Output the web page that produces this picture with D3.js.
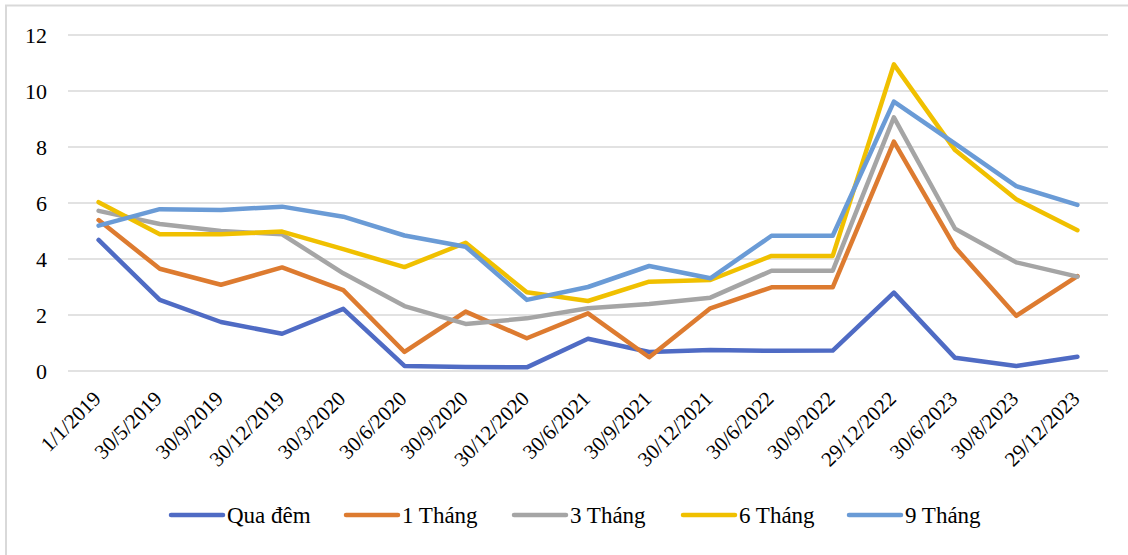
<!DOCTYPE html>
<html>
<head>
<meta charset="utf-8">
<script src="https://cdn.jsdelivr.net/npm/d3@7"></script>
<style>
  body { margin: 0; background: #fff; }
  svg { display: block; }
  svg text { font-family: "Liberation Serif", "Tinos", "Times New Roman", "Nimbus Roman", "Noto Serif", "DejaVu Serif", "FreeSerif", serif; }
</style>
</head>
<body>
<div id="chart"></div>
<script>
// categories (dates)
const dates = ["1/1/2019", "30/5/2019", "30/9/2019", "30/12/2019", "30/3/2020", "30/6/2020",
  "30/9/2020", "30/12/2020", "30/6/2021", "30/9/2021", "30/12/2021", "30/6/2022",
  "30/9/2022", "29/12/2022", "30/6/2023", "30/8/2023", "29/12/2023"];

// series values
const quaDem  = [4.68, 2.54, 1.75, 1.33, 2.22, 0.18, 0.14, 0.13, 1.15, 0.68, 0.75, 0.72, 0.73, 2.8, 0.47, 0.18, 0.51];
const thang1  = [5.39, 3.65, 3.08, 3.7, 2.89, 0.68, 2.12, 1.17, 2.06, 0.49, 2.24, 2.99, 2.99, 8.19, 4.42, 1.97, 3.39];
const thang3  = [5.72, 5.25, 5.0, 4.88, 3.49, 2.32, 1.68, 1.88, 2.24, 2.39, 2.62, 3.58, 3.58, 9.06, 5.08, 3.88, 3.37];
const thang6  = [6.03, 4.88, 4.88, 4.98, 4.35, 3.71, 4.58, 2.81, 2.5, 3.19, 3.25, 4.11, 4.11, 10.95, 7.89, 6.13, 5.03];
const thang9  = [5.19, 5.78, 5.75, 5.87, 5.51, 4.84, 4.44, 2.54, 3.0, 3.75, 3.31, 4.83, 4.83, 9.62, 8.12, 6.6, 5.93];

const seriesNames = ["Qua đêm", "1 Tháng", "3 Tháng", "6 Tháng", "9 Tháng"];
const seriesColors = ["#4f6bc4", "#dd7b30", "#a5a5a5", "#f0c000", "#6a9bd6"];
const yTicks = [0, 2, 4, 6, 8, 10, 12];

const allSeries = [quaDem, thang1, thang3, thang6, thang9];

const width = 1128, height = 555;
const margin = { left: 68, right: 20, top: 35, bottom: 184 };
const fontSize = 21;

const svg = d3.select("#chart").append("svg")
  .attr("width", width)
  .attr("height", height);

// cropped frame: top and left edges only
svg.append("path")
  .attr("d", `M6,${height} V5.5 H${width}`)
  .attr("fill", "none")
  .attr("stroke", "#d9d9d9")
  .attr("stroke-width", 2);

const x = d3.scalePoint()
  .domain(dates)
  .range([margin.left, width - margin.right])
  .padding(0.5);

const y = d3.scaleLinear()
  .domain([0, 12])
  .range([height - margin.bottom, margin.top]);

// gridlines
svg.append("g")
  .selectAll("line")
  .data(yTicks)
  .enter().append("line")
  .attr("x1", margin.left)
  .attr("x2", width - margin.right)
  .attr("y1", d => y(d))
  .attr("y2", d => y(d))
  .attr("stroke", "#d9d9d9")
  .attr("stroke-width", 1.5);

// y axis labels
const yAxis = svg.append("g")
  .attr("transform", `translate(${margin.left},0)`)
  .call(d3.axisLeft(y).tickValues(yTicks).tickSize(0).tickPadding(21));
yAxis.attr("font-family", null);
yAxis.select(".domain").remove();
yAxis.selectAll("text")
  .attr("font-size", 22)
  .attr("fill", "#000");

// x axis labels, rotated 45 degrees
const xAxis = svg.append("g")
  .attr("transform", `translate(0,${y(0)})`)
  .call(d3.axisBottom(x).tickSize(0));
xAxis.attr("font-family", null);
xAxis.select(".domain").remove();
xAxis.selectAll("text")
  .attr("font-size", fontSize)
  .attr("fill", "#000")
  .attr("text-anchor", "end")
  .attr("x", 0)
  .attr("y", 0)
  .attr("dy", 0)
  .attr("transform", "translate(3,29) rotate(-45)");

// lines
const line = d3.line()
  .x((d, i) => x(dates[i]))
  .y(d => y(d));

svg.append("g")
  .selectAll("path")
  .data(allSeries)
  .enter().append("path")
  .attr("d", d => line(d))
  .attr("fill", "none")
  .attr("stroke", (d, i) => seriesColors[i])
  .attr("stroke-width", 4.5)
  .attr("stroke-linejoin", "round")
  .attr("stroke-linecap", "round");

// legend
const legendX = [170, 345, 513, 682, 848];
const legend = svg.append("g")
  .selectAll("g")
  .data(seriesNames)
  .enter().append("g")
  .attr("transform", (d, i) => `translate(${legendX[i]},515)`);

legend.append("line")
  .attr("x1", 1).attr("x2", 53)
  .attr("stroke", (d, i) => seriesColors[i])
  .attr("stroke-width", 4.5)
  .attr("stroke-linecap", "round");

legend.append("text")
  .attr("x", 57)
  .attr("dy", "0.35em")
  .attr("font-size", 23)
  .attr("fill", "#000")
  .text(d => d);
</script>
</body>
</html>
